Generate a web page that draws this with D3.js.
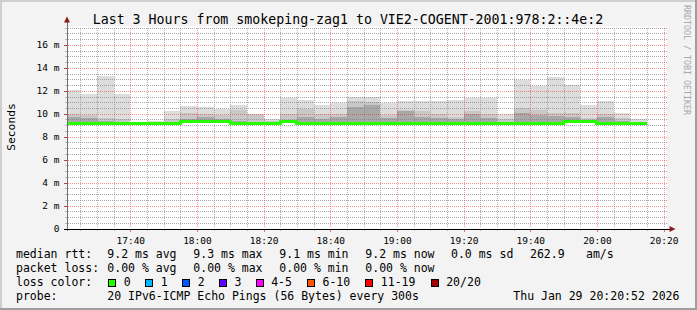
<!DOCTYPE html>
<html><head><meta charset="utf-8">
<script src="https://cdn.jsdelivr.net/npm/d3@7"></script>
<style>
html,body{margin:0;padding:0;background:#f3f3f3;}
svg{display:block;}
text{font-family:"DejaVu Sans Mono",monospace;fill:#000;}
</style>
</head><body>
<svg id="c" width="697" height="310"></svg>
<script>
// ---- data ----
const stepStarts = ["17:20","17:25","17:30","17:35","17:40","17:45","17:50","17:55","18:00","18:05",
  "18:10","18:15","18:20","18:25","18:30","18:35","18:40","18:45","18:50","18:55",
  "19:00","19:05","19:10","19:15","19:20","19:25","19:30","19:35","19:40","19:45",
  "19:50","19:55","20:00","20:05","20:10"];
const smokeMax  = [12.1,11.7,13.3,11.75,9.2,9.35,10.2,10.7,10.6,10.45,
  10.8,10.0,9.5,11.4,11.2,10.8,10.9,11.5,11.5,10.9,
  11.1,11.1,11.1,11.2,11.4,11.4,10.0,12.9,12.4,13.2,
  12.5,10.8,11.1,10.1,9.5];
const smokeMid  = [10.0,9.9,9.6,9.5,9.2,9.25,9.5,10.05,10.0,9.9,
  10.3,10.0,9.4,10.0,10.4,10.0,10.0,11.1,11.0,9.9,
  10.35,10.2,10.0,9.75,10.2,9.95,9.5,10.5,10.3,10.1,
  10.05,9.6,10.0,9.6,9.3];
const smokeDark = [9.75,9.6,9.4,9.3,9.2,9.2,9.3,9.55,9.7,9.5,
  9.4,9.3,9.25,9.4,9.7,9.5,9.75,10.6,10.8,9.6,
  10.2,9.75,9.6,9.5,10.0,9.6,9.3,10.1,9.9,9.8,
  9.7,9.4,9.7,9.4,9.2];
const medianRtt = [9.15,9.15,9.15,9.15,9.15,9.15,9.15,9.33,9.33,9.33,
  9.15,9.15,9.15,9.33,9.15,9.15,9.15,9.15,9.15,9.15,
  9.15,9.15,9.15,9.15,9.15,9.15,9.15,9.15,9.15,9.15,
  9.33,9.33,9.15,9.15,9.15];
const yTickValues = [0,2,4,6,8,10,12,14,16];
const xTickLabels = ["17:40","18:00","18:20","18:40","19:00","19:20","19:40","20:00","20:20"];
const rttStats  = ["9.2 ms avg","9.3 ms max","9.1 ms min","9.2 ms now","0.0 ms sd","262.9","am/s"];
const lossStats = ["0.00 % avg","0.00 % max","0.00 % min","0.00 % now"];
const lossLabels = ["0","1","2","3","4-5","6-10","11-19","20/20"];
const lossColors = ["#26ff00","#00b8ff","#0059ff","#5e00ff","#ff00ff","#ff5500","#ff0000","#a10000"];
const titleText = "Last 3 Hours from smokeping-zag1 to VIE2-COGENT-2001:978:2::4e:2";
const probeText = "20 IPv6-ICMP Echo Pings (56 Bytes) every 300s";
const dateText = "Thu Jan 29 20:20:52 2026";

// ---- layout ----
const svg = d3.select("#c");
const W = 697, H = 310;
const L = 66.5, R = 666.5, T = 26.5, B = 228.5;
const day = (h,m,s=0)=>new Date(2026,0,29,h,m,s);
const parse = s => { const [h,m]=s.split(":").map(Number); return day(h,m); };
const t0 = day(17,20,52), t1 = day(20,20,52);
const x = d3.scaleTime().domain([t0,t1]).range([L,R]);
const y = d3.scaleLinear().domain([0,17.6]).range([B,T]);
const px = v => Math.round(v)+0.5;

// dotted patterns
const defs = svg.append("defs");
const mkPat = (id, w, h, col) => {
  const p = defs.append("pattern").attr("id",id).attr("patternUnits","userSpaceOnUse")
    .attr("x",0).attr("y",0).attr("width",w).attr("height",h);
  p.append("rect").attr("x",0).attr("y",0).attr("width",1).attr("height",1).attr("fill",col);
};
mkPat("gH",2,1,"rgba(128,128,128,0.7)");
mkPat("gV",1,2,"rgba(128,128,128,0.6)");
mkPat("rH",2,1,"rgba(255,0,0,0.42)");
mkPat("rV",1,2,"rgba(255,0,0,0.42)");

// background and frame
svg.append("rect").attr("width",W).attr("height",H).attr("fill","#f3f3f3");
svg.append("rect").attr("x",0).attr("y",0).attr("width",W).attr("height",2).attr("fill","#cfcfcf");
svg.append("rect").attr("x",0).attr("y",0).attr("width",2).attr("height",H).attr("fill","#cfcfcf");
svg.append("rect").attr("x",0).attr("y",H-2).attr("width",W).attr("height",2).attr("fill","#9e9e9e");
svg.append("rect").attr("x",W-2).attr("y",0).attr("width",2).attr("height",H).attr("fill","#9e9e9e");
svg.append("rect").attr("x",L+0.5).attr("y",T).attr("width",R-L).attr("height",B-T).attr("fill","#ffffff");

// smoke
const steps = stepStarts.map((s,i)=>{
  const a = parse(s), b = new Date(a.getTime()+5*60000);
  return {x0: Math.max(x(a), L+0.5), x1: x(b), max: smokeMax[i], mid: smokeMid[i], dark: smokeDark[i], med: medianRtt[i]};
});
const smokeG = svg.append("g").attr("shape-rendering","crispEdges");
[["max","#dddddd"],["mid","#c8c8c8"],["dark","#a9a9a9"]].forEach(([k,c])=>{
  smokeG.selectAll(null).data(steps).enter().append("rect")
    .attr("x",d=>d.x0).attr("width",d=>d.x1-d.x0)
    .attr("y",d=>y(d[k])).attr("height",d=>Math.max(0,y(d.med-0.05)-y(d[k])))
    .attr("fill",c);
});

// grid (dotted, pixel-aligned rects)
const grid = svg.append("g").attr("shape-rendering","crispEdges");
const hLine = (data, pat) => grid.selectAll(null).data(data).enter().append("rect")
  .attr("x",68).attr("width",599).attr("y",d=>Math.round(y(d))).attr("height",1)
  .attr("fill",`url(#${pat})`);
const vLine = (data, pat) => grid.selectAll(null).data(data).enter().append("rect")
  .attr("y",27).attr("height",201).attr("x",d=>Math.round(x(d))).attr("width",1)
  .attr("fill",`url(#${pat})`);
const minorY = d3.range(1,36).map(i=>i*0.5).filter(v=>v%2!==0);
const minorX = d3.timeMinute.every(5).range(t0,t1).filter(d=>d.getMinutes()%20!==0);
const majorX = xTickLabels.map(parse);
hLine(minorY, "gH");
vLine(minorX, "gV");
vLine(majorX, "rV");
hLine(yTickValues.filter(v=>v>0), "rH");

// median line
const medLine = d3.line().x(d=>d[0]).y(d=>d[1]).curve(d3.curveStepAfter);
const medPts = steps.map(d=>[d.x0,y(d.med)]);
medPts.push([steps[steps.length-1].x1, y(medianRtt[medianRtt.length-1])]);
svg.append("path").attr("d",medLine(medPts)).attr("fill","none")
  .attr("stroke",lossColors[0]).attr("stroke-width",3).attr("shape-rendering","crispEdges");

// axes
const xAxis = d3.axisBottom(x).tickValues(majorX).tickFormat(d3.timeFormat("%H:%M")).tickSize(0).tickPadding(9);
const gx = svg.append("g").attr("transform",`translate(0,${B})`).call(xAxis);
gx.select(".domain").remove();
gx.selectAll("text").attr("font-family","DejaVu Sans Mono").attr("font-size","9.5px").attr("fill","#000");
const yAxis = d3.axisLeft(y).tickValues(yTickValues).tickFormat(d=>d===0?"0":d+" m").tickSize(0).tickPadding(7);
const gy = svg.append("g").attr("transform",`translate(${L},0)`).call(yAxis);
gy.select(".domain").remove();
gy.selectAll("text").attr("font-family","DejaVu Sans Mono").attr("font-size","9.5px").attr("fill","#000");

// axis tick marks
const tk = svg.append("g").attr("shape-rendering","crispEdges");
tk.selectAll(null).data(yTickValues).enter().append("line")
  .attr("x1",L-3).attr("x2",L).attr("y1",d=>px(y(d))).attr("y2",d=>px(y(d)))
  .attr("stroke","#c04040");
tk.selectAll(null).data(minorY).enter().append("line")
  .attr("x1",L-2).attr("x2",L).attr("y1",d=>px(y(d))).attr("y2",d=>px(y(d)))
  .attr("stroke","#bbbbbb");
tk.selectAll(null).data(majorX).enter().append("line")
  .attr("y1",B).attr("y2",B+3).attr("x1",d=>px(x(d))).attr("x2",d=>px(x(d)))
  .attr("stroke","#e07070");
tk.selectAll(null).data(minorX).enter().append("line")
  .attr("y1",B).attr("y2",B+2).attr("x1",d=>px(x(d))).attr("x2",d=>px(x(d)))
  .attr("stroke","#bbbbbb");
svg.append("line").attr("x1",L+0.5).attr("x2",L+0.5).attr("y1",B+2).attr("y2",T-5)
  .attr("stroke","#707070").attr("shape-rendering","crispEdges");
svg.append("line").attr("x1",L-3).attr("x2",R+5).attr("y1",B+0.5).attr("y2",B+0.5)
  .attr("stroke","#000").attr("shape-rendering","crispEdges");
svg.append("path").attr("d",`M${L-2.5},${T-4} L${L+3.5},${T-4} L${L+0.5},${T-10} Z`).attr("fill","#8b1a1a");
svg.append("path").attr("d",`M${R+3},${B-2.5} L${R+3},${B+3.5} L${R+9},${B+0.5} Z`).attr("fill","#8b1a1a");

// title & labels
svg.append("text").attr("x",348).attr("y",23.5).attr("text-anchor","middle")
  .attr("font-size","13.25px").text(titleText);
svg.append("text").attr("transform","translate(14.5,127) rotate(-90)").attr("text-anchor","middle")
  .attr("font-size","11.3px").text("Seconds");
svg.append("text").attr("transform","translate(683.5,5) rotate(90)").attr("text-anchor","start")
  .attr("font-size","8.3px").style("fill","#a8a8a8").text("RRDTOOL / TOBI OETIKER");

// legend
const fs = "11.5px";
const rowY = [258, 272, 286, 300];
const lg = svg.append("g").attr("font-size",fs);
lg.append("text").attr("x",16).attr("y",rowY[0]).text("median rtt:");
const rttX = [107.3,193.3,279.3,365.3,451,530,586];
rttStats.forEach((s,i)=>lg.append("text").attr("x",rttX[i]).attr("y",rowY[0]).text(s));
lg.append("text").attr("x",16).attr("y",rowY[1]).text("packet loss:");
lossStats.forEach((s,i)=>lg.append("text").attr("x",rttX[i]).attr("y",rowY[1]).text(s));
lg.append("text").attr("x",16).attr("y",rowY[2]).text("loss color:");
const boxX = [108.3,145.3,182.3,219,255.7,307,365.3,430.7];
lossLabels.forEach((s,i)=>{
  lg.append("rect").attr("x",boxX[i]+0.5).attr("y",279.5).attr("width",7).attr("height",7)
    .attr("fill",lossColors[i]).attr("stroke","#000").attr("stroke-width",1).attr("shape-rendering","crispEdges");
  lg.append("text").attr("x",boxX[i]+15.5).attr("y",rowY[2]).text(s);
});
lg.append("text").attr("x",16).attr("y",rowY[3]).text("probe:");
lg.append("text").attr("x",107.3).attr("y",rowY[3]).text(probeText);
lg.append("text").attr("x",513.3).attr("y",rowY[3]).text(dateText);
</script>
</body></html>
